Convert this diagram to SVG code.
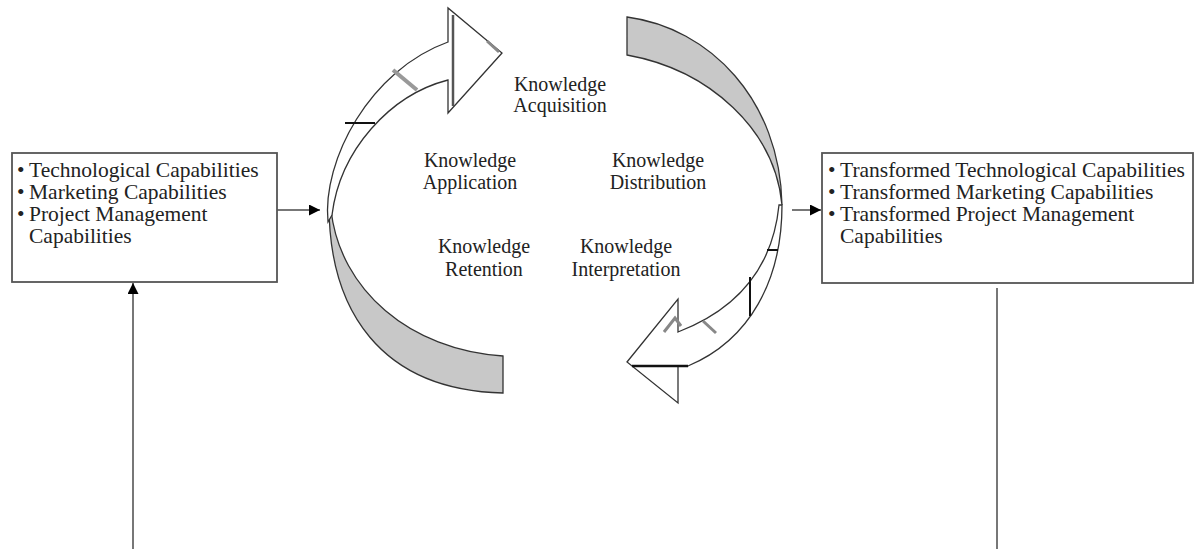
<svg xmlns="http://www.w3.org/2000/svg" width="1196" height="549" viewBox="0 0 1196 549">
<defs>
<style>
text{font-family:"Liberation Serif","Times New Roman",serif;font-size:20px;fill:#222}
.bt{font-size:21.5px}
.c{text-anchor:middle}
.box{fill:#fff;stroke:#555;stroke-width:1.8}
.ol{stroke:#333;stroke-width:1.3;stroke-linejoin:miter}
.conn{stroke:#777;stroke-width:2;fill:none}
</style>
<marker id="ah" viewBox="0 0 10 10" refX="10" refY="5" markerUnits="userSpaceOnUse" markerWidth="13" markerHeight="11" orient="auto">
<path d="M0,0 L10,5 L0,10 Z" fill="#000"/>
</marker>
</defs>
<rect width="1196" height="549" fill="#fff"/>

<g id="connectors">
<line class="conn" x1="277" y1="210" x2="320" y2="210" marker-end="url(#ah)"/>
<line class="conn" x1="792" y1="210" x2="821" y2="210" marker-end="url(#ah)"/>
<line class="conn" x1="133" y1="549" x2="133" y2="283" marker-end="url(#ah)"/>
<line class="conn" x1="997" y1="288" x2="997" y2="549" stroke="#999"/>
</g>

<g id="box-left">
<rect class="box" x="12" y="153" width="265" height="129"/>
<text class="bt" y="177"><tspan x="17">•</tspan><tspan x="29">Technological Capabilities</tspan></text>
<text class="bt" y="199"><tspan x="17">•</tspan><tspan x="29">Marketing Capabilities</tspan></text>
<text class="bt" y="221"><tspan x="17">•</tspan><tspan x="29">Project Management</tspan></text>
<text class="bt" x="29" y="243">Capabilities</text>
</g>

<g id="box-right">
<rect class="box" x="822" y="153" width="371" height="130"/>
<text class="bt" y="177"><tspan x="828">•</tspan><tspan x="840">Transformed Technological Capabilities</tspan></text>
<text class="bt" y="199"><tspan x="828">•</tspan><tspan x="840">Transformed Marketing Capabilities</tspan></text>
<text class="bt" y="221"><tspan x="828">•</tspan><tspan x="840">Transformed Project Management</tspan></text>
<text class="bt" x="840" y="243">Capabilities</text>
</g>

<g id="arrow-left">
<path class="ol" d="M329,205 C329,310 380,390 503,393 L503,356 C410,350 340,290 331,210 Z" fill="#c8c8c8"/>
<path class="ol" d="M328,222 C322,160 370,70 448,42 L448,8 L502,53 L448,113 L448,80 C390,95 340,150 332,215 Z" fill="#fff"/>
<line x1="453" y1="15" x2="453" y2="106" stroke="#555" stroke-width="2.5"/>
<line x1="393" y1="70" x2="417" y2="90" stroke="#999" stroke-width="4"/>
<line x1="345" y1="123" x2="375" y2="123" stroke="#111" stroke-width="2"/>
<line x1="487" y1="41" x2="499" y2="52" stroke="#888" stroke-width="3"/>
</g>

<g id="arrow-right">
<path class="ol" d="M627,17 C710,28 780,100 782,205 C775,130 710,70 627,55 Z" fill="#c8c8c8"/>
<path class="ol" d="M782,205 C782,280 750,340 688,366 L678,366 L678,403 L627,362 L678,299 L678,332 C730,312 772,275 779,205 Z" fill="#fff"/>
<line x1="632" y1="366" x2="688" y2="366" stroke="#111" stroke-width="2.5"/>
<line x1="750" y1="277" x2="750" y2="316" stroke="#111" stroke-width="2"/>
<line x1="767" y1="250" x2="778" y2="250" stroke="#111" stroke-width="2"/>
<polyline points="664,332 675,318 681,326" fill="none" stroke="#888" stroke-width="3"/>
<line x1="703" y1="321" x2="716" y2="333" stroke="#888" stroke-width="3"/>
</g>

<g id="label-acquisition"><text class="c" x="560" y="91">Knowledge</text><text class="c" x="560" y="112">Acquisition</text></g>
<g id="label-application"><text class="c" x="470" y="167">Knowledge</text><text class="c" x="470" y="189">Application</text></g>
<g id="label-distribution"><text class="c" x="658" y="167">Knowledge</text><text class="c" x="658" y="189">Distribution</text></g>
<g id="label-retention"><text class="c" x="484" y="253">Knowledge</text><text class="c" x="484" y="276">Retention</text></g>
<g id="label-interpretation"><text class="c" x="626" y="253">Knowledge</text><text class="c" x="626" y="276">Interpretation</text></g>
</svg>
